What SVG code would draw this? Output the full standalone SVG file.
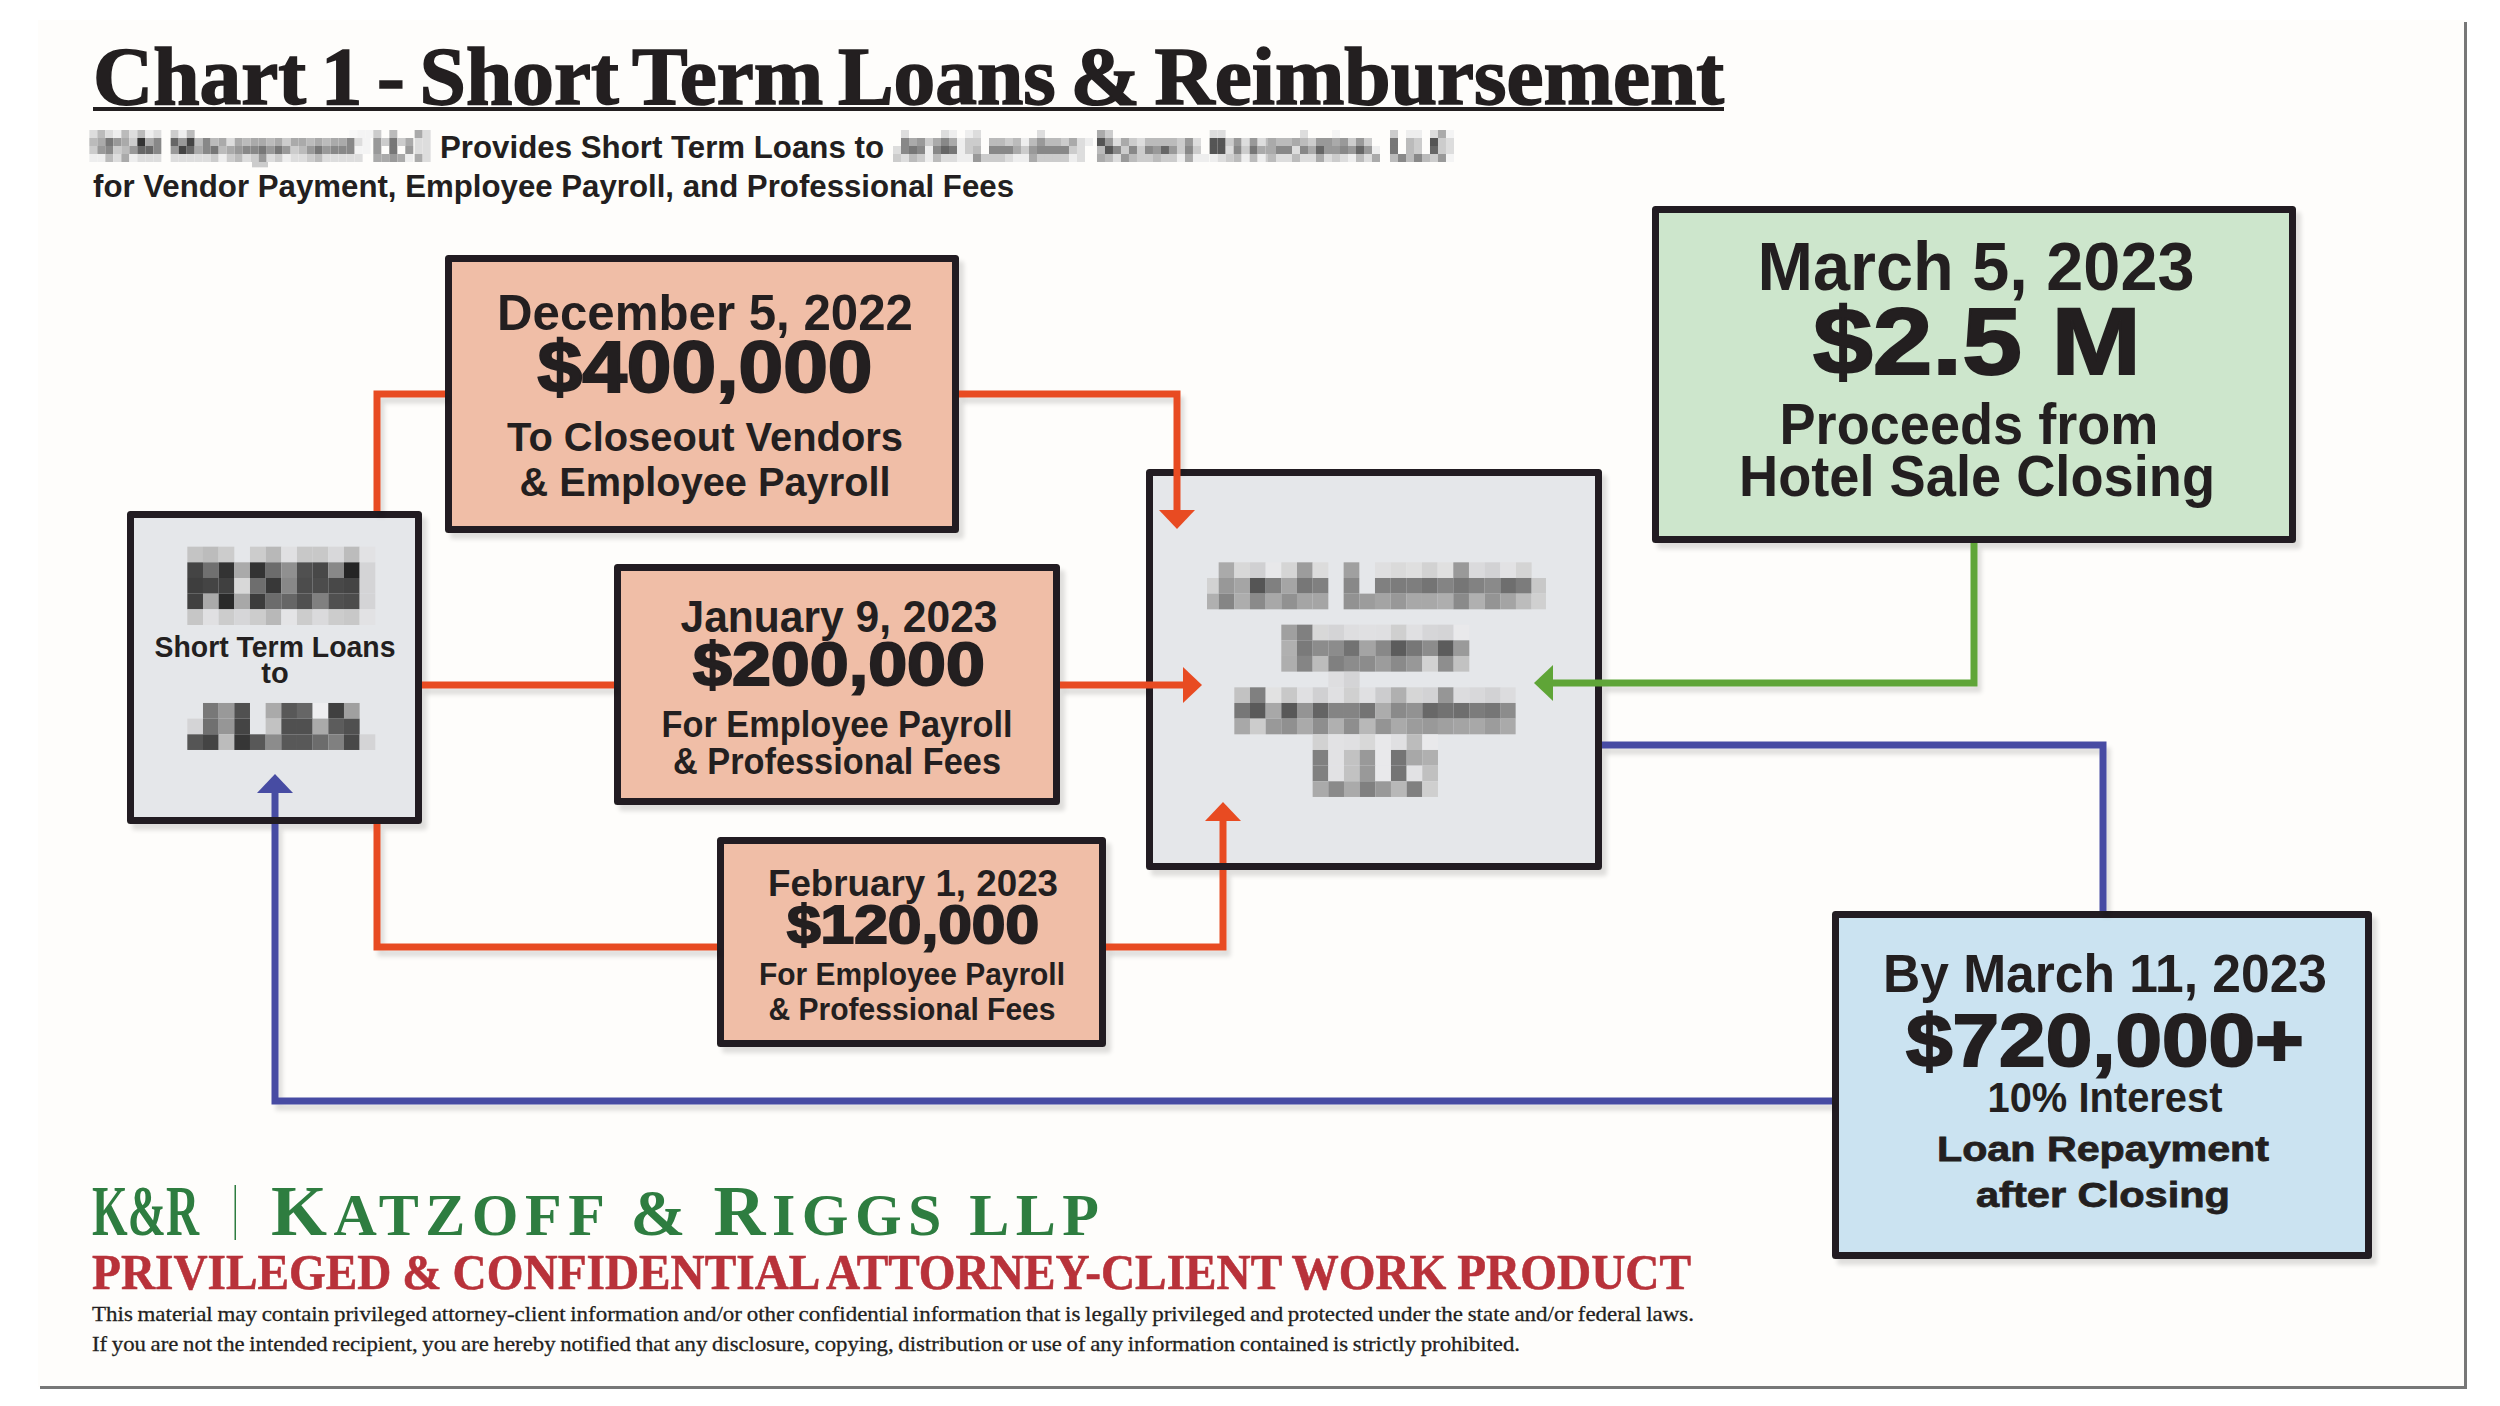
<svg xmlns="http://www.w3.org/2000/svg" width="2500" height="1406" viewBox="0 0 2500 1406">
<style>
text{font-family:"Liberation Sans",Arial,sans-serif;font-weight:bold;fill:#231f20;text-anchor:middle}
.l{text-anchor:start}
.serif{font-family:"Liberation Serif","Times New Roman",serif;text-anchor:start}
.box{stroke:#231f20;stroke-width:7;stroke-linejoin:round;filter:url(#sh)}
.peach{fill:#f0bea7}.grey{fill:#e5e7ea}.green{fill:#cde6cc}.blue{fill:#cbe3f1}
.ln{fill:none;stroke-width:7;filter:url(#ls)}
.st{fill:none;stroke-width:7}
.o{stroke:#e84b22}.b{stroke:#474ca3}.g{stroke:#5fa537}
.heavy{stroke:#231f20;stroke-width:2}
.m47 rect{width:47px;height:47px}
.m24 rect{width:24px;height:24px}
</style>
<defs>
<filter id="sh" filterUnits="userSpaceOnUse" x="0" y="0" width="2500" height="1406"><feDropShadow dx="5" dy="6" stdDeviation="2" flood-color="#000" flood-opacity=".12"/></filter>
<filter id="ls" filterUnits="userSpaceOnUse" x="0" y="0" width="2500" height="1406"><feDropShadow dx="4" dy="6" stdDeviation="2" flood-color="#000" flood-opacity=".12"/></filter>
<marker id="ao" markerUnits="userSpaceOnUse" markerWidth="20" markerHeight="38" refX="0" refY="19" orient="auto"><path d="M0 1L19 19L0 37Z" fill="#e84b22"/></marker>
<marker id="ab" markerUnits="userSpaceOnUse" markerWidth="20" markerHeight="38" refX="0" refY="19" orient="auto"><path d="M0 1L19 19L0 37Z" fill="#474ca3"/></marker>
<marker id="ag" markerUnits="userSpaceOnUse" markerWidth="20" markerHeight="38" refX="0" refY="19" orient="auto"><path d="M0 1L19 19L0 37Z" fill="#5fa537"/></marker>
</defs>
<rect width="2500" height="1406" fill="#fff"/>
<rect x="38" y="20" width="2427" height="1367" fill="#fefdfb"/>
<path d="M40 1387.500H2465.500V22" fill="none" stroke="#777" stroke-width="3"/>

<g id="header">
<text class="serif heavy" x="93" y="104" font-size="82" word-spacing="-6" textLength="1631" lengthAdjust="spacingAndGlyphs" style="stroke-width:1.600">Chart 1 - Short Term Loans &amp; Reimbursement</text>
<rect x="93" y="107" width="1631" height="4" fill="#231f20"/>
<text class="l" x="440" y="158" font-size="32" textLength="444" lengthAdjust="spacingAndGlyphs">Provides Short Term Loans to</text>
<text class="l" x="93" y="197" font-size="32" textLength="921" lengthAdjust="spacingAndGlyphs">for Vendor Payment, Employee Payroll, and Professional Fees</text>
</g>

<g id="redact-subtitle-1" class="m24" transform="translate(80 120) scale(.3333)">
<g transform="translate(0 30)"><rect x="28" fill="#ddd"/><rect x="52" fill="#bbb"/><rect x="76" fill="#ddd"/><rect x="100" fill="#eee"/><rect x="124" fill="#bbb"/><rect x="148" fill="#ddd"/><rect x="172" fill="#bbb"/><rect x="196" fill="#eee"/><rect x="220" fill="#ddd"/><rect x="272" fill="#ccc"/><rect x="296" fill="#eee"/><rect x="320" fill="#bbb"/><rect x="808" fill="#f8f8f8"/><rect x="832" fill="#f4f4f4"/><rect x="856" fill="#f4f4f4"/><rect x="880" fill="#ccc"/><rect x="928" fill="#bbb"/><rect x="1004" fill="#aaa"/><rect x="1028" fill="#ddd"/></g>
<g transform="translate(0 54)"><rect x="28" fill="#bbb"/><rect x="52" fill="#aaa"/><rect x="76" fill="#777"/><rect x="100" fill="#999"/><rect x="124" fill="#aaa"/><rect x="148" fill="#ccc"/><rect x="172" fill="#333"/><rect x="196" fill="#aaa"/><rect x="220" fill="#888"/><rect x="272" fill="#666"/><rect x="296" fill="#999"/><rect x="320" fill="#444"/><rect x="344" fill="#bbb"/><rect x="368" fill="#888"/><rect x="392" fill="#bbb"/><rect x="416" fill="#aaa"/><rect x="440" fill="#ddd"/><rect x="464" fill="#aaa"/><rect x="488" fill="#bbb"/><rect x="512" fill="#aaa"/><rect x="536" fill="#aaa"/><rect x="560" fill="#bbb"/><rect x="584" fill="#aaa"/><rect x="608" fill="#ccc"/><rect x="632" fill="#aaa"/><rect x="656" fill="#aaa"/><rect x="680" fill="#bbb"/><rect x="704" fill="#aaa"/><rect x="728" fill="#bbb"/><rect x="752" fill="#aaa"/><rect x="776" fill="#aaa"/><rect x="800" fill="#888"/><rect x="824" fill="#ddd"/><rect x="848" fill="#f4f4f4"/><rect x="880" fill="#999"/><rect x="904" fill="#ccc"/><rect x="928" fill="#777"/><rect x="952" fill="#ccc"/><rect x="976" fill="#aaa"/><rect x="1004" fill="#ddd"/><rect x="1028" fill="#ddd"/></g>
<g transform="translate(0 78)"><rect x="28" fill="#ccc"/><rect x="52" fill="#999"/><rect x="76" fill="#888"/><rect x="100" fill="#ccc"/><rect x="124" fill="#bbb"/><rect x="148" fill="#999"/><rect x="172" fill="#666"/><rect x="196" fill="#666"/><rect x="220" fill="#888"/><rect x="272" fill="#999"/><rect x="296" fill="#444"/><rect x="320" fill="#666"/><rect x="344" fill="#aaa"/><rect x="368" fill="#888"/><rect x="392" fill="#777"/><rect x="416" fill="#bbb"/><rect x="440" fill="#aaa"/><rect x="464" fill="#999"/><rect x="488" fill="#888"/><rect x="512" fill="#888"/><rect x="536" fill="#777"/><rect x="560" fill="#999"/><rect x="584" fill="#777"/><rect x="608" fill="#999"/><rect x="632" fill="#ccc"/><rect x="656" fill="#bbb"/><rect x="680" fill="#999"/><rect x="704" fill="#777"/><rect x="728" fill="#999"/><rect x="752" fill="#888"/><rect x="776" fill="#888"/><rect x="800" fill="#888"/><rect x="824" fill="#f4f4f4"/><rect x="848" fill="#f4f4f4"/><rect x="880" fill="#999"/><rect x="928" fill="#777"/><rect x="976" fill="#999"/><rect x="1004" fill="#ddd"/><rect x="1028" fill="#ddd"/></g>
<g transform="translate(0 102)"><rect x="28" fill="#eee"/><rect x="52" fill="#eee"/><rect x="76" fill="#bbb"/><rect x="100" fill="#ddd"/><rect x="124" fill="#aaa"/><rect x="148" fill="#eee"/><rect x="172" fill="#ddd"/><rect x="196" fill="#ddd"/><rect x="220" fill="#ddd"/><rect x="272" fill="#ddd"/><rect x="296" fill="#ddd"/><rect x="320" fill="#ddd"/><rect x="344" fill="#ddd"/><rect x="368" fill="#ddd"/><rect x="392" fill="#ccc"/><rect x="416" fill="#eee"/><rect x="440" fill="#ccc"/><rect x="464" fill="#bbb"/><rect x="488" fill="#ddd"/><rect x="512" fill="#ccc"/><rect x="536" fill="#999"/><rect x="560" fill="#ddd"/><rect x="584" fill="#ccc"/><rect x="608" fill="#eee"/><rect x="632" fill="#ddd"/><rect x="656" fill="#ddd"/><rect x="680" fill="#ccc"/><rect x="704" fill="#bbb"/><rect x="728" fill="#ddd"/><rect x="752" fill="#ddd"/><rect x="776" fill="#ddd"/><rect x="800" fill="#ddd"/><rect x="824" fill="#ddd"/><rect x="880" fill="#aaa"/><rect x="904" fill="#aaa"/><rect x="928" fill="#999"/><rect x="952" fill="#aaa"/><rect x="976" fill="#eee"/><rect x="1004" fill="#aaa"/><rect x="1028" fill="#ddd"/></g>
<g transform="translate(0 126)"><rect x="516" fill="#ccc" style="height:16px"/><rect x="540" fill="#ccc" style="height:16px"/></g>
</g>

<g id="redact-subtitle-2" class="m24" transform="translate(893 120) scale(.3333)">
<g transform="translate(0 30)"><rect x="24" fill="#ddd"/><rect x="144" fill="#ddd"/><rect x="168" fill="#eee"/><rect x="216" fill="#eee"/><rect x="240" fill="#ddd"/><rect x="432" fill="#ddd"/><rect x="612" fill="#aaa"/><rect x="636" fill="#ccc"/><rect x="950" fill="#ddd"/><rect x="974" fill="#ddd"/></g>
<g transform="translate(0 54)"><rect x="24" fill="#888"/><rect x="48" fill="#aaa"/><rect x="72" fill="#999"/><rect x="96" fill="#ccc"/><rect x="120" fill="#aaa"/><rect x="144" fill="#888"/><rect x="168" fill="#aaa"/><rect x="192" fill="#eee"/><rect x="216" fill="#ccc"/><rect x="240" fill="#ccc"/><rect x="288" fill="#bbb"/><rect x="312" fill="#bbb"/><rect x="336" fill="#ccc"/><rect x="360" fill="#bbb"/><rect x="384" fill="#eee"/><rect x="408" fill="#bbb"/><rect x="432" fill="#999"/><rect x="456" fill="#bbb"/><rect x="480" fill="#bbb"/><rect x="504" fill="#ccc"/><rect x="528" fill="#aaa"/><rect x="552" fill="#ddd"/><rect x="576" fill="#eee"/><rect x="612" fill="#555"/><rect x="636" fill="#999"/><rect x="660" fill="#ddd"/><rect x="684" fill="#aaa"/><rect x="708" fill="#ccc"/><rect x="732" fill="#ddd"/><rect x="756" fill="#bbb"/><rect x="780" fill="#bbb"/><rect x="804" fill="#bbb"/><rect x="828" fill="#bbb"/><rect x="852" fill="#ccc"/><rect x="876" fill="#999"/><rect x="900" fill="#ddd"/><rect x="950" fill="#555"/><rect x="974" fill="#555"/><rect x="998" fill="#ccc"/><rect x="1022" fill="#999"/><rect x="1046" fill="#ddd"/><rect x="1070" fill="#999"/><rect x="1094" fill="#ddd"/><rect x="1118" fill="#bbb"/></g>
<g transform="translate(0 78)"><rect x="0" fill="#ddd"/><rect x="24" fill="#888"/><rect x="48" fill="#777"/><rect x="72" fill="#888"/><rect x="96" fill="#eee"/><rect x="120" fill="#888"/><rect x="144" fill="#666"/><rect x="168" fill="#777"/><rect x="192" fill="#eee"/><rect x="216" fill="#ccc"/><rect x="240" fill="#bbb"/><rect x="288" fill="#888"/><rect x="312" fill="#888"/><rect x="336" fill="#888"/><rect x="360" fill="#aaa"/><rect x="384" fill="#ccc"/><rect x="408" fill="#999"/><rect x="432" fill="#888"/><rect x="456" fill="#888"/><rect x="480" fill="#888"/><rect x="504" fill="#888"/><rect x="528" fill="#ccc"/><rect x="552" fill="#ddd"/><rect x="612" fill="#bbb"/><rect x="636" fill="#555"/><rect x="660" fill="#888"/><rect x="684" fill="#ccc"/><rect x="708" fill="#888"/><rect x="732" fill="#ccc"/><rect x="756" fill="#888"/><rect x="780" fill="#999"/><rect x="804" fill="#666"/><rect x="828" fill="#999"/><rect x="852" fill="#ccc"/><rect x="876" fill="#888"/><rect x="900" fill="#ccc"/><rect x="950" fill="#555"/><rect x="974" fill="#555"/><rect x="998" fill="#ddd"/><rect x="1022" fill="#888"/><rect x="1046" fill="#ccc"/><rect x="1070" fill="#777"/><rect x="1094" fill="#aaa"/><rect x="1118" fill="#aaa"/></g>
<g transform="translate(0 102)"><rect x="0" fill="#ccc"/><rect x="24" fill="#ddd"/><rect x="48" fill="#bbb"/><rect x="72" fill="#ccc"/><rect x="96" fill="#eee"/><rect x="120" fill="#bbb"/><rect x="144" fill="#ddd"/><rect x="168" fill="#ddd"/><rect x="192" fill="#eee"/><rect x="216" fill="#eee"/><rect x="240" fill="#999"/><rect x="264" fill="#ccc"/><rect x="288" fill="#ccc"/><rect x="312" fill="#ccc"/><rect x="336" fill="#ddd"/><rect x="360" fill="#eee"/><rect x="384" fill="#eee"/><rect x="408" fill="#aaa"/><rect x="432" fill="#ccc"/><rect x="456" fill="#ccc"/><rect x="480" fill="#ccc"/><rect x="504" fill="#ccc"/><rect x="528" fill="#eee"/><rect x="552" fill="#ddd"/><rect x="612" fill="#aaa"/><rect x="636" fill="#bbb"/><rect x="660" fill="#ddd"/><rect x="684" fill="#999"/><rect x="708" fill="#bbb"/><rect x="732" fill="#ccc"/><rect x="756" fill="#ccc"/><rect x="780" fill="#bbb"/><rect x="804" fill="#ccc"/><rect x="828" fill="#ccc"/><rect x="852" fill="#eee"/><rect x="876" fill="#aaa"/><rect x="900" fill="#eee"/><rect x="924" fill="#eee"/><rect x="950" fill="#eee"/><rect x="974" fill="#ddd"/><rect x="998" fill="#ccc"/><rect x="1022" fill="#bbb"/><rect x="1046" fill="#eee"/><rect x="1070" fill="#bbb"/><rect x="1094" fill="#eee"/><rect x="1118" fill="#ccc"/></g>
</g>
<g id="redact-subtitle-3" class="m24" transform="translate(1270 120) scale(.3333)">
<g transform="translate(0 30)"><rect x="90" fill="#ddd"/><rect x="186" fill="#f4f4f4"/><rect x="360" fill="#ccc"/><rect x="408" fill="#eee"/><rect x="432" fill="#eee"/><rect x="480" fill="#ddd"/><rect x="504" fill="#aaa"/><rect x="528" fill="#f4f4f4"/></g>
<g transform="translate(0 54)"><rect x="-6" fill="#aaa"/><rect x="18" fill="#bbb"/><rect x="42" fill="#bbb"/><rect x="66" fill="#aaa"/><rect x="90" fill="#bbb"/><rect x="114" fill="#ccc"/><rect x="138" fill="#999"/><rect x="162" fill="#999"/><rect x="186" fill="#aaa"/><rect x="210" fill="#999"/><rect x="234" fill="#ccc"/><rect x="258" fill="#999"/><rect x="282" fill="#ccc"/><rect x="360" fill="#777"/><rect x="408" fill="#bbb"/><rect x="432" fill="#ccc"/><rect x="480" fill="#555"/><rect x="504" fill="#ccc"/><rect x="528" fill="#ddd"/></g>
<g transform="translate(0 78)"><rect x="-6" fill="#aaa"/><rect x="18" fill="#888"/><rect x="42" fill="#888"/><rect x="66" fill="#ddd"/><rect x="90" fill="#888"/><rect x="114" fill="#aaa"/><rect x="138" fill="#666"/><rect x="162" fill="#999"/><rect x="186" fill="#999"/><rect x="210" fill="#888"/><rect x="234" fill="#999"/><rect x="258" fill="#666"/><rect x="282" fill="#999"/><rect x="306" fill="#eee"/><rect x="360" fill="#777"/><rect x="408" fill="#bbb"/><rect x="432" fill="#ccc"/><rect x="480" fill="#666"/><rect x="504" fill="#ccc"/><rect x="528" fill="#ddd"/></g>
<g transform="translate(0 102)"><rect x="-6" fill="#bbb"/><rect x="18" fill="#ddd"/><rect x="42" fill="#ddd"/><rect x="66" fill="#bbb"/><rect x="90" fill="#ddd"/><rect x="114" fill="#ddd"/><rect x="138" fill="#aaa"/><rect x="162" fill="#ddd"/><rect x="186" fill="#ccc"/><rect x="210" fill="#ddd"/><rect x="234" fill="#eee"/><rect x="258" fill="#bbb"/><rect x="282" fill="#ddd"/><rect x="306" fill="#aaa"/><rect x="360" fill="#bbb"/><rect x="384" fill="#888"/><rect x="408" fill="#bbb"/><rect x="432" fill="#888"/><rect x="456" fill="#bbb"/><rect x="480" fill="#ccc"/><rect x="504" fill="#999"/><rect x="528" fill="#f4f4f4"/></g>
</g>

<g id="node-lender">
<rect class="box grey" x="130.500" y="514.500" width="288" height="306"/>
<g class="m47" transform="translate(100 500) scale(.3333)">
<g transform="translate(0 140)"><rect x="262" fill="#c4c4c4"/><rect x="309" fill="#bcbcbc"/><rect x="356" fill="#ccc"/><rect x="450" fill="#ccc"/><rect x="497" fill="#b8b8b8"/><rect x="544" fill="#e0e0e2"/><rect x="591" fill="#c8c8c8"/><rect x="638" fill="#c8c8c8"/><rect x="685" fill="#d8d8da"/><rect x="732" fill="#bcbcbc"/><rect x="779" fill="#e2e2e4"/></g>
<g transform="translate(0 187)"><rect x="262" fill="#444"/><rect x="309" fill="#707070"/><rect x="356" fill="#333"/><rect x="403" fill="#aaa"/><rect x="450" fill="#333"/><rect x="497" fill="#6c6c6c"/><rect x="544" fill="#909090"/><rect x="591" fill="#505050"/><rect x="638" fill="#484848"/><rect x="685" fill="#888"/><rect x="732" fill="#252525"/><rect x="779" fill="#d4d4d6"/></g>
<g transform="translate(0 234)"><rect x="262" fill="#3e3e3e"/><rect x="309" fill="#444"/><rect x="356" fill="#404040"/><rect x="403" fill="#d8d8d8"/><rect x="450" fill="#6e6e6e"/><rect x="497" fill="#383838"/><rect x="544" fill="#888"/><rect x="591" fill="#4c4c4c"/><rect x="638" fill="#4c4c4c"/><rect x="685" fill="#484848"/><rect x="732" fill="#444"/><rect x="779" fill="#d4d4d6"/></g>
<g transform="translate(0 281)"><rect x="262" fill="#404040"/><rect x="309" fill="#aaa"/><rect x="356" fill="#2a2a2a"/><rect x="403" fill="#a8a8a8"/><rect x="450" fill="#3c3c3c"/><rect x="497" fill="#6c6c6c"/><rect x="544" fill="#666"/><rect x="591" fill="#505050"/><rect x="638" fill="#808080"/><rect x="685" fill="#505050"/><rect x="732" fill="#4c4c4c"/><rect x="779" fill="#d4d4d6"/></g>
<g transform="translate(0 328)"><rect x="262" fill="#c6c6c6"/><rect x="309" fill="#e0e0e2"/><rect x="356" fill="#ccc"/><rect x="403" fill="#d6d6d8"/><rect x="450" fill="#ccc"/><rect x="497" fill="#b8b8b8"/><rect x="544" fill="#e4e4e6"/><rect x="591" fill="#ccc"/><rect x="638" fill="#dadadc"/><rect x="685" fill="#ccc"/><rect x="732" fill="#c8c8c8"/><rect x="779" fill="#e2e2e4"/></g>
<g transform="translate(0 609)"><rect x="309" fill="#787878"/><rect x="356" fill="#999"/><rect x="403" fill="#505050"/><rect x="497" fill="#aaa"/><rect x="544" fill="#585858"/><rect x="591" fill="#666"/><rect x="638" fill="#eeeef0"/><rect x="685" fill="#404040"/><rect x="732" fill="#a0a0a0"/></g>
<g transform="translate(0 656)"><rect x="262" fill="#d4d4d6"/><rect x="309" fill="#707070"/><rect x="356" fill="#969696"/><rect x="403" fill="#444"/><rect x="497" fill="#c2c2c2"/><rect x="544" fill="#505050"/><rect x="591" fill="#505050"/><rect x="638" fill="#aaa"/><rect x="685" fill="#5c5c5c"/><rect x="732" fill="#505050"/></g>
<g transform="translate(0 703)"><rect x="262" fill="#555"/><rect x="309" fill="#444"/><rect x="356" fill="#bcbcbc"/><rect x="403" fill="#363636"/><rect x="450" fill="#585858"/><rect x="497" fill="#8c8c8c"/><rect x="544" fill="#585858"/><rect x="591" fill="#585858"/><rect x="638" fill="#6c6c6c"/><rect x="685" fill="#808080"/><rect x="732" fill="#484848"/><rect x="779" fill="#d4d4d6"/></g>
</g>
<text x="275" y="657" font-size="29" textLength="241" lengthAdjust="spacingAndGlyphs">Short Term Loans</text>
<text x="275" y="683" font-size="29">to</text>
</g>

<g id="node-dec">
<rect class="box peach" x="448.500" y="258.500" width="507" height="271"/>
<text x="705" y="330" font-size="50" textLength="416" lengthAdjust="spacingAndGlyphs">December 5, 2022</text>
<text class="heavy" x="705" y="392" font-size="72" textLength="335" lengthAdjust="spacingAndGlyphs">$400,000</text>
<text x="705" y="451" font-size="41" textLength="396" lengthAdjust="spacingAndGlyphs">To Closeout Vendors</text>
<text x="705" y="496" font-size="41" textLength="371" lengthAdjust="spacingAndGlyphs">&amp; Employee Payroll</text>
</g>
<g id="node-jan">
<rect class="box peach" x="617.500" y="567.500" width="439" height="234"/>
<text x="839" y="632" font-size="44" textLength="317" lengthAdjust="spacingAndGlyphs">January 9, 2023</text>
<text class="heavy" x="839" y="685" font-size="62" textLength="292" lengthAdjust="spacingAndGlyphs">$200,000</text>
<text x="837" y="737" font-size="37" textLength="351" lengthAdjust="spacingAndGlyphs">For Employee Payroll</text>
<text x="837" y="774" font-size="37" textLength="328" lengthAdjust="spacingAndGlyphs">&amp; Professional Fees</text>
</g>
<g id="node-feb">
<rect class="box peach" x="720.500" y="840.500" width="382" height="203"/>
<text x="913" y="896" font-size="37" textLength="290" lengthAdjust="spacingAndGlyphs">February 1, 2023</text>
<text class="heavy" x="913" y="943" font-size="54" textLength="252" lengthAdjust="spacingAndGlyphs">$120,000</text>
<text x="912" y="985" font-size="32" textLength="306" lengthAdjust="spacingAndGlyphs">For Employee Payroll</text>
<text x="912" y="1020" font-size="32" textLength="287" lengthAdjust="spacingAndGlyphs">&amp; Professional Fees</text>
</g>

<g id="node-borrower">
<rect class="box grey" x="1149.500" y="472.500" width="449" height="394"/>
<g class="m47" transform="translate(1150 460) scale(.3333)">
<g transform="translate(0 307)"><rect x="206" fill="#aaa"/><rect x="253" fill="#d8d8d8"/><rect x="300" fill="#d0d0d2"/><rect x="347" fill="#e8e8ea"/><rect x="394" fill="#d5d5d5"/><rect x="441" fill="#9c9c9c"/><rect x="488" fill="#dcdcdc"/><rect x="581" fill="#a0a0a0"/><rect x="675" fill="#dfdfe0"/><rect x="722" fill="#dadada"/><rect x="769" fill="#dfdfdf"/><rect x="816" fill="#d2d2d2"/><rect x="863" fill="#e0e0e0"/><rect x="910" fill="#999"/><rect x="957" fill="#dadadc"/><rect x="1004" fill="#d2d2d4"/><rect x="1051" fill="#e2e2e4"/><rect x="1098" fill="#d4d4d4"/></g>
<g transform="translate(0 354)"><rect x="171" fill="#d2d2d2" style="width:35px"/><rect x="206" fill="#989898"/><rect x="253" fill="#a5a5a5"/><rect x="300" fill="#555"/><rect x="347" fill="#808080"/><rect x="394" fill="#a5a5a5"/><rect x="441" fill="#777"/><rect x="488" fill="#808080"/><rect x="581" fill="#888"/><rect x="675" fill="#808080"/><rect x="722" fill="#7c7c7c"/><rect x="769" fill="#7e7e7e"/><rect x="816" fill="#747474"/><rect x="863" fill="#848484"/><rect x="910" fill="#767676"/><rect x="957" fill="#828282"/><rect x="1004" fill="#8a8a8a"/><rect x="1051" fill="#6e6e6e"/><rect x="1098" fill="#7c7c7c"/><rect x="1145" fill="#c8c8c8" style="width:43px"/></g>
<g transform="translate(0 401)"><rect x="171" fill="#b0b0b0" style="width:35px"/><rect x="206" fill="#858585"/><rect x="253" fill="#adadad"/><rect x="300" fill="#8a8a8a"/><rect x="347" fill="#a8a8a8"/><rect x="394" fill="#919191"/><rect x="441" fill="#a5a5a5"/><rect x="488" fill="#a5a5a5"/><rect x="581" fill="#929292"/><rect x="628" fill="#9c9c9c"/><rect x="675" fill="#a4a4a4"/><rect x="722" fill="#989898"/><rect x="769" fill="#a8a8a8"/><rect x="816" fill="#a8a8a8"/><rect x="863" fill="#aeaeae"/><rect x="910" fill="#8a8a8a"/><rect x="957" fill="#b0b0b0"/><rect x="1004" fill="#949494"/><rect x="1051" fill="#a4a4a4"/><rect x="1098" fill="#bcbcbc"/><rect x="1145" fill="#d0d0d0" style="width:43px"/></g>
<g transform="translate(0 494)"><rect x="394" fill="#a0a0a0"/><rect x="441" fill="#808080"/><rect x="488" fill="#d8d8d8"/><rect x="535" fill="#d4d4d6"/><rect x="582" fill="#dedee0"/><rect x="629" fill="#e0e0e2"/><rect x="676" fill="#dfdfe1"/><rect x="723" fill="#cfcfcf"/><rect x="770" fill="#e0e0e2"/><rect x="817" fill="#d6d6d8"/><rect x="864" fill="#d4d4d6"/><rect x="911" fill="#e9e9eb"/></g>
<g transform="translate(0 541)"><rect x="394" fill="#b0b0b0"/><rect x="441" fill="#7a7a7a"/><rect x="488" fill="#8c8c8c"/><rect x="535" fill="#8c8c8c"/><rect x="582" fill="#727272"/><rect x="629" fill="#a4a4a4"/><rect x="676" fill="#888"/><rect x="723" fill="#5c5c5c"/><rect x="770" fill="#777"/><rect x="817" fill="#8c8c8c"/><rect x="864" fill="#5c5c5c"/><rect x="911" fill="#9a9a9a"/></g>
<g transform="translate(0 588)"><rect x="394" fill="#aeaeae"/><rect x="441" fill="#858585"/><rect x="488" fill="#bcbcbc"/><rect x="535" fill="#808080"/><rect x="582" fill="#8c8c8c"/><rect x="629" fill="#8c8c8c"/><rect x="676" fill="#9c9c9c"/><rect x="723" fill="#8a8a8a"/><rect x="770" fill="#989898"/><rect x="817" fill="#d2d2d2"/><rect x="864" fill="#8e8e8e"/><rect x="911" fill="#c2c2c2"/></g>
<g transform="translate(0 635)"><rect x="535" fill="#dedee0"/><rect x="582" fill="#d4d4d6"/></g>
<g transform="translate(0 682)"><rect x="253" fill="#c2c2c2"/><rect x="300" fill="#808080"/><rect x="347" fill="#e2e2e2"/><rect x="394" fill="#c8c8c8"/><rect x="441" fill="#e0e0e2"/><rect x="488" fill="#d0d0d2"/><rect x="535" fill="#e0e0e2"/><rect x="582" fill="#d0d0d0"/><rect x="629" fill="#e0e0e2"/><rect x="676" fill="#ccccce"/><rect x="723" fill="#b0b0b0"/><rect x="770" fill="#d6d6d6"/><rect x="817" fill="#d2d2d4"/><rect x="864" fill="#969696"/><rect x="911" fill="#dcdcde"/><rect x="958" fill="#d8d8da"/><rect x="1005" fill="#d2d2d4"/><rect x="1052" fill="#dcdcde" style="width:45px"/></g>
<g transform="translate(0 729)"><rect x="253" fill="#777"/><rect x="300" fill="#5a5a5a"/><rect x="347" fill="#a8a8a8"/><rect x="394" fill="#585858"/><rect x="441" fill="#949494"/><rect x="488" fill="#646464"/><rect x="535" fill="#848484"/><rect x="582" fill="#848484"/><rect x="629" fill="#747474"/><rect x="676" fill="#acacac"/><rect x="723" fill="#8a8a8a"/><rect x="770" fill="#929292"/><rect x="817" fill="#686868"/><rect x="864" fill="#727272"/><rect x="911" fill="#6e6e6e"/><rect x="958" fill="#7c7c7c"/><rect x="1005" fill="#767676"/><rect x="1052" fill="#8c8c8c" style="width:45px"/></g>
<g transform="translate(0 776)"><rect x="253" fill="#a8a8a8"/><rect x="300" fill="#ccc"/><rect x="347" fill="#999"/><rect x="394" fill="#909090"/><rect x="441" fill="#aaa"/><rect x="488" fill="#8e8e8e"/><rect x="535" fill="#b0b0b0"/><rect x="582" fill="#8e8e8e"/><rect x="629" fill="#b8b8b8"/><rect x="676" fill="#949494"/><rect x="723" fill="#aaa"/><rect x="770" fill="#9c9c9c"/><rect x="817" fill="#999"/><rect x="864" fill="#a0a0a0"/><rect x="911" fill="#a4a4a4"/><rect x="958" fill="#a8a8a8"/><rect x="1005" fill="#9c9c9c"/><rect x="1052" fill="#aaa" style="width:45px"/></g>
<g transform="translate(0 823)"><rect x="488" fill="#d2d2d2"/><rect x="535" fill="#e2e2e4"/><rect x="582" fill="#e0e0e2"/><rect x="629" fill="#d8d8d8"/><rect x="676" fill="#e8e8ea"/><rect x="723" fill="#e0e0e2"/><rect x="770" fill="#bcbcbc"/><rect x="817" fill="#e9e9eb"/></g>
<g transform="translate(0 870)"><rect x="488" fill="#808080"/><rect x="535" fill="#e2e2e4"/><rect x="582" fill="#c2c2c2"/><rect x="629" fill="#999"/><rect x="676" fill="#e9e9eb"/><rect x="723" fill="#757575"/><rect x="770" fill="#a8a8a8"/><rect x="817" fill="#b0b0b0"/></g>
<g transform="translate(0 917)"><rect x="488" fill="#808080"/><rect x="535" fill="#e2e2e4"/><rect x="582" fill="#c2c2c2"/><rect x="629" fill="#999"/><rect x="676" fill="#e9e9eb"/><rect x="723" fill="#757575"/><rect x="770" fill="#e2e2e4"/><rect x="817" fill="#c0c0c0"/></g>
<g transform="translate(0 964)"><rect x="488" fill="#aaa"/><rect x="535" fill="#8a8a8a"/><rect x="582" fill="#aaa"/><rect x="629" fill="#808080"/><rect x="676" fill="#999"/><rect x="723" fill="#b8b8b8"/><rect x="770" fill="#808080"/><rect x="817" fill="#cfcfcf"/></g>
</g>
</g>

<g id="node-proceeds">
<rect class="box green" x="1655.500" y="209.500" width="637" height="330"/>
<text x="1976" y="290" font-size="68" textLength="437" lengthAdjust="spacingAndGlyphs">March 5, 2023</text>
<text class="heavy" x="1977" y="374" font-size="94" textLength="328" lengthAdjust="spacingAndGlyphs">$2.5 M</text>
<text x="1969" y="444" font-size="57" textLength="379" lengthAdjust="spacingAndGlyphs">Proceeds from</text>
<text x="1977" y="496" font-size="57" textLength="476" lengthAdjust="spacingAndGlyphs">Hotel Sale Closing</text>
</g>

<g id="node-repayment">
<rect class="box blue" x="1835.500" y="914.500" width="533" height="341"/>
<text x="2105" y="992" font-size="53" textLength="444" lengthAdjust="spacingAndGlyphs">By March 11, 2023</text>
<text class="heavy" x="2105" y="1066" font-size="74" textLength="398" lengthAdjust="spacingAndGlyphs">$720,000+</text>
<text x="2105" y="1112" font-size="42" textLength="235" lengthAdjust="spacingAndGlyphs">10% Interest</text>
<text class="heavy" x="2103" y="1161" font-size="35" textLength="332" lengthAdjust="spacingAndGlyphs" style="stroke-width:.8">Loan Repayment</text>
<text class="heavy" x="2103" y="1207" font-size="35" textLength="254" lengthAdjust="spacingAndGlyphs" style="stroke-width:.8">after Closing</text>
</g>

<g id="connectors">
<path class="ln o" d="M377 511V394H445"/>
<path class="ln o" d="M959 394H1177V469"/>
<path class="st o" d="M1177 469V510" marker-end="url(#ao)"/>
<path class="ln o" d="M422 685H614"/>
<path class="ln o" d="M1060 685H1146"/>
<path class="st o" d="M1146 685H1183" marker-end="url(#ao)"/>
<path class="ln o" d="M377 824V947H717"/>
<path class="ln o" d="M1106 947H1223V870"/>
<path class="st o" d="M1223 863V821" marker-end="url(#ao)"/>
<path class="ln g" d="M1974 543V683H1602"/>
<path class="st g" d="M1602 683H1553" marker-end="url(#ag)"/>
<path class="ln b" d="M1602 745H2103V911"/>
<path class="ln b" d="M1832 1101H275V824"/>
<path class="st b" d="M275 817V793" marker-end="url(#ab)"/>
</g>

<g id="footer">
<text class="serif" x="92" y="1235" font-size="72" textLength="107" lengthAdjust="spacingAndGlyphs" style="fill:#2e7d40">K&amp;R</text>
<rect x="234.500" y="1185" width="1.500" height="55" fill="#2e7d40"/>
<text class="serif" x="271" y="1235" font-size="60" textLength="828" style="fill:#2e7d40"><tspan font-size="72">K</tspan>ATZOFF <tspan font-size="66">&amp;</tspan> <tspan font-size="72">R</tspan>IGGS LLP</text>
<text class="serif heavy" x="92" y="1289" font-size="50" word-spacing="-1" textLength="1599" lengthAdjust="spacingAndGlyphs" style="fill:#b8323a;stroke:#b8323a;stroke-width:.6">PRIVILEGED &amp; CONFIDENTIAL ATTORNEY-CLIENT WORK PRODUCT</text>
<text class="serif" x="92" y="1321" font-size="22" word-spacing="-1" textLength="1602" lengthAdjust="spacingAndGlyphs" style="font-weight:normal;stroke:#231f20;stroke-width:.3">This material may contain privileged attorney-client information and/or other confidential information that is legally privileged and protected under the state and/or federal laws.</text>
<text class="serif" x="92" y="1351" font-size="22" word-spacing="-1" textLength="1428" lengthAdjust="spacingAndGlyphs" style="font-weight:normal;stroke:#231f20;stroke-width:.3">If you are not the intended recipient, you are hereby notified that any disclosure, copying, distribution or use of any information contained is strictly prohibited.</text>
</g>
</svg>
